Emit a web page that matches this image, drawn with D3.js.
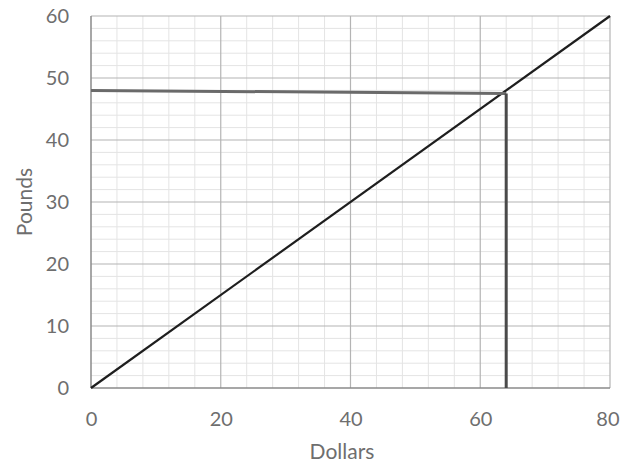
<!DOCTYPE html>
<html><head><meta charset="utf-8">
<script src="https://cdn.jsdelivr.net/npm/d3@7"></script>
<style>
body{margin:0;background:#fff;}
svg{display:block;}
text{font-family:Lato,"Open Sans",sans-serif;fill:#6e6e6e;}
</style></head><body>
<svg id="c" width="620" height="464"></svg>
<script>
const xTicks=[0,20,40,60,80];
const yTicks=[0,10,20,30,40,50,60];
const xMinor=[4,8,12,16,24,28,32,36,44,48,52,56,64,68,72,76];
const yMinor=[2,4,6,8,12,14,16,18,22,24,26,28,32,34,36,38,42,44,46,48,52,54,56,58];
const lineDollars=[0,80];
const linePounds=[0,60];
const readDollars=[0,64,64];
const readPounds=[48,47.5,0];

const svg=d3.select("#c");
const x=d3.scaleLinear().domain([0,80]).range([91,610]);
const y=d3.scaleLinear().domain([0,60]).range([388,16]);

const g=svg.append("g");
// minor grid
g.selectAll(".mx").data(xMinor).join("line")
 .attr("x1",d=>x(d)).attr("x2",d=>x(d)).attr("y1",y(0)).attr("y2",y(60))
 .attr("stroke","#e4e4e4").attr("stroke-width",1);
g.selectAll(".my").data(yMinor).join("line")
 .attr("x1",x(0)).attr("x2",x(80)).attr("y1",d=>y(d)).attr("y2",d=>y(d))
 .attr("stroke","#e4e4e4").attr("stroke-width",1);
// major grid
g.selectAll(".Mx").data(xTicks.slice(1)).join("line")
 .attr("x1",d=>x(d)).attr("x2",d=>x(d)).attr("y1",y(0)).attr("y2",y(60))
 .attr("stroke","#b4b4b4").attr("stroke-width",1.2);
g.selectAll(".My").data(yTicks.slice(1)).join("line")
 .attr("x1",x(0)).attr("x2",x(80)).attr("y1",d=>y(d)).attr("y2",d=>y(d))
 .attr("stroke","#b4b4b4").attr("stroke-width",1.2);
// frame axes
g.append("line").attr("x1",x(0)).attr("x2",x(0)).attr("y1",y(0)).attr("y2",y(60)).attr("stroke","#8a8a8a").attr("stroke-width",1.5);
g.append("line").attr("x1",x(0)).attr("x2",x(80)).attr("y1",y(0)).attr("y2",y(0)).attr("stroke","#8a8a8a").attr("stroke-width",1.5);

// tick labels via axes
const xa=svg.append("g").attr("transform",`translate(0,${y(0)})`)
 .call(d3.axisBottom(x).tickValues(xTicks).tickSize(0).tickPadding(24));
xa.select(".domain").remove();
xa.selectAll("text").attr("font-size",20).style("fill","#6e6e6e");
// keep the last label inside the page
xa.selectAll(".tick").filter(d=>d===80).select("text")
 .attr("text-anchor","end").attr("x",619-x(80));
const ya=svg.append("g").attr("transform",`translate(${x(0)},0)`)
 .call(d3.axisLeft(y).tickValues(yTicks).tickSize(0).tickPadding(22));
ya.select(".domain").remove();
ya.selectAll("text").attr("font-size",20).style("fill","#6e6e6e");

// data lines
const ln=d3.line().x(d=>x(d[0])).y(d=>y(d[1]));
svg.append("path").datum(lineDollars.map((d,i)=>[d,linePounds[i]]))
 .attr("d",ln).attr("fill","none").attr("stroke","#1e1e1e").attr("stroke-width",2.2);
const rd=readDollars.map((d,i)=>[d,readPounds[i]]);
svg.append("path").datum(rd.slice(0,2)).attr("d",ln).attr("fill","none").attr("stroke","#6a6a6a").attr("stroke-width",3);
svg.append("path").datum(rd.slice(1)).attr("d",ln).attr("fill","none").attr("stroke","#4a4a4a").attr("stroke-width",3);

// axis titles
svg.append("text").attr("x",342).attr("y",459).attr("text-anchor","middle").attr("font-size",21).text("Dollars");
svg.append("text").attr("transform",`translate(32,${(y(0)+y(60))/2}) rotate(-90)`).attr("text-anchor","middle").attr("font-size",21).text("Pounds");
</script></body></html>
